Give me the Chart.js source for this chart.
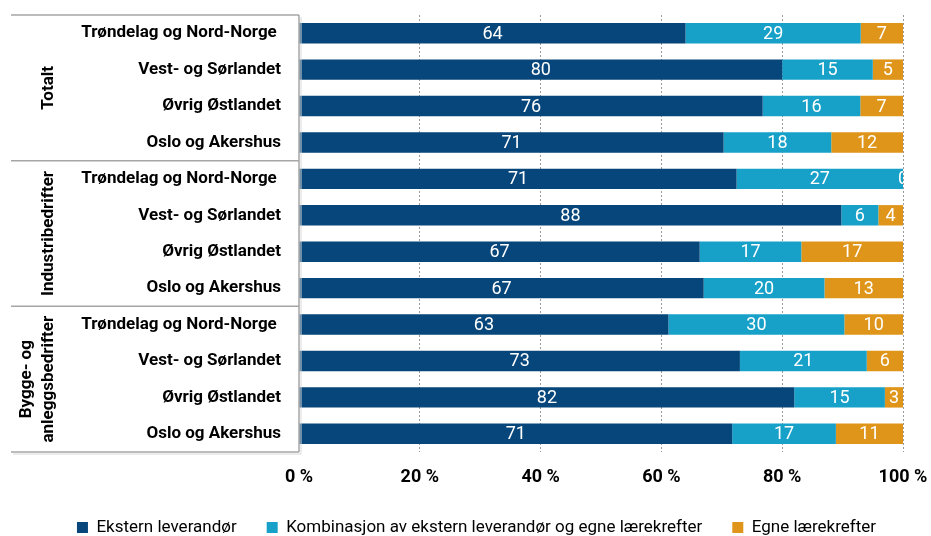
<!DOCTYPE html>
<html>
<head>
<meta charset="utf-8">
<script src="https://cdn.jsdelivr.net/npm/chart.js@4"></script>
<style>
  html, body { margin: 0; padding: 0; background: #fff; }
  #wrap { width: 931px; height: 536px; }
</style>
</head>
<body>
<div id="wrap"><canvas id="chart"></canvas></div>
<script>
// rader (regioner) - gjentas for hver gruppe
var regioner = ['Trøndelag og Nord-Norge ', 'Vest- og Sørlandet', 'Øvrig Østlandet', 'Oslo og Akershus'];
var grupper = ['Totalt', 'Industribedrifter', ['Bygge- og', 'anleggsbedrifter']];
var kategorier = regioner.concat(regioner, regioner);

// verdier (prosent, avrundet slik de vises i figuren)
var ekstern     = [64, 80, 76, 71,  71, 88, 67, 67,  63, 73, 82, 71];
var kombinasjon = [29, 15, 16, 18,  27,  6, 17, 20,  30, 21, 15, 17];
var egne        = [ 7,  5,  7, 12,   0,  4, 17, 13,  10,  6,  3, 11];

var serier = ['Ekstern leverandør', 'Kombinasjon av ekstern leverandør og egne lærekrefter', 'Egne lærekrefter'];
var xTicks = [0, 20, 40, 60, 80, 100];

var FONT = "Roboto, 'Liberation Sans', sans-serif";

// 100 % stablet: hver rad skaleres til summen
var rå = [ekstern, kombinasjon, egne];
var andel = rå.map(function (s) {
    return s.map(function (v, i) { return v / (ekstern[i] + kombinasjon[i] + egne[i]) * 100; });
});

// tall inni stolpene
var verdiEtiketter = {
    id: 'verdiEtiketter',
    afterDatasetsDraw: function (chart) {
        var ctx = chart.ctx, a = chart.chartArea;
        ctx.save();
        ctx.beginPath();
        ctx.rect(a.left, a.top, a.right - a.left, a.bottom - a.top);
        ctx.clip();
        ctx.fillStyle = '#fff';
        ctx.font = '18px ' + FONT;
        ctx.textAlign = 'center';
        ctx.textBaseline = 'middle';
        chart.data.datasets.forEach(function (ds, i) {
            chart.getDatasetMeta(i).data.forEach(function (bar, j) {
                ctx.fillText(rå[i][j], (bar.x + bar.base) / 2, bar.y + 1);
            });
        });
        ctx.restore();
    }
};

// gruppeboks til venstre
var gruppeBoks = {
    id: 'gruppeBoks',
    afterDraw: function (chart) {
        var ctx = chart.ctx, a = chart.chartArea, y = chart.scales.y;
        ctx.save();
        var kanter = [a.top];
        for (var g = 1; g < grupper.length; g++) {
            kanter.push((y.getPixelForValue(g * 4 - 1) + y.getPixelForValue(g * 4)) / 2);
        }
        kanter.push(a.bottom);
        ctx.strokeStyle = '#a6a6a6';
        ctx.lineWidth = 1.5;
        kanter.forEach(function (k) {
            ctx.beginPath(); ctx.moveTo(11, k); ctx.lineTo(a.left, k); ctx.stroke();
        });
        ctx.beginPath(); ctx.moveTo(a.left, a.top); ctx.lineTo(a.left, a.bottom); ctx.stroke();
        ctx.strokeStyle = '#d9d9d9';
        ctx.lineWidth = 1;
        ctx.beginPath(); ctx.moveTo(a.left + 2, a.top + 2); ctx.lineTo(a.left + 2, a.bottom + 2); ctx.lineTo(13, a.bottom + 2); ctx.stroke();

        ctx.fillStyle = '#000';
        ctx.font = 'bold 17px ' + FONT;
        ctx.textAlign = 'center';
        ctx.textBaseline = 'middle';
        grupper.forEach(function (navn, g) {
            var midt = (y.getPixelForValue(g * 4) + y.getPixelForValue(g * 4 + 3)) / 2;
            var linjer = [].concat(navn);
            ctx.save();
            ctx.translate(linjer.length > 1 ? 27 : 49, midt);
            ctx.rotate(-Math.PI / 2);
            linjer.forEach(function (t, i) { ctx.fillText(t, 0, i * 22); });
            ctx.restore();
        });
        ctx.restore();
    }
};

// flytt forklaringen litt mot høyre (og rett høyde)
var flyttLegende = {
    id: 'flyttLegende',
    afterLayout: function (chart) {
        chart.legend.top -= 2;
        chart.legend.bottom -= 2;
        chart.legend.left += 8;
        chart.legend.right += 8;
    }
};

var ctx = document.getElementById('chart');

var chart = new Chart(ctx, {
    type: 'bar',
    data: {
        labels: kategorier,
        datasets: [{
            label: serier[0],
            backgroundColor: '#07467a',
            data: andel[0]
        }, {
            label: serier[1],
            backgroundColor: '#17a0c8',
            data: andel[1]
        }, {
            label: serier[2],
            backgroundColor: '#df951a',
            data: andel[2]
        }]
    },
    options: {
        indexAxis: 'y',
        responsive: true,
        maintainAspectRatio: false,
        animation: false,
        datasets: {
            bar: { barPercentage: 0.56, categoryPercentage: 1, borderWidth: 0 }
        },
        layout: { padding: { top: 15, left: 34, right: 28, bottom: -12 } },
        scales: {
            x: {
                stacked: true,
                min: 0,
                max: 100,
                afterBuildTicks: function (s) { s.ticks = xTicks.map(function (v) { return { value: v }; }); },
                afterFit: function (s) { s.height = 39; s.paddingLeft = 0; s.paddingRight = 0; },
                grid: {
                    color: function (c) { return c.tick && c.tick.value === 0 ? 'rgba(0,0,0,0)' : '#9a9a9a'; },
                    lineWidth: 1,
                    drawTicks: false
                },
                border: { display: false, dash: [2, 2] },
                ticks: {
                    padding: 15,
                    color: '#000',
                    font: { family: FONT, size: 18, weight: 'bold' },
                    callback: function (v) { return v + ' %'; }
                }
            },
            y: {
                stacked: true,
                afterFit: function (s) { s.width = 265; s.paddingTop = 0; s.paddingBottom = 0; },
                border: { display: false },
                grid: { display: false, drawTicks: false },
                ticks: {
                    autoSkip: false,
                    padding: 18,
                    color: '#000',
                    font: { family: FONT, size: 17, weight: 'bold' }
                }
            }
        },
        plugins: {
            legend: {
                position: 'bottom',
                labels: {
                    boxWidth: 11,
                    boxHeight: 11,
                    padding: 30,
                    color: '#000',
                    font: { family: FONT, size: 17 }
                }
            },
            tooltip: { enabled: false }
        }
    },
    plugins: [verdiEtiketter, gruppeBoks, flyttLegende]
});
</script>
</body>
</html>
